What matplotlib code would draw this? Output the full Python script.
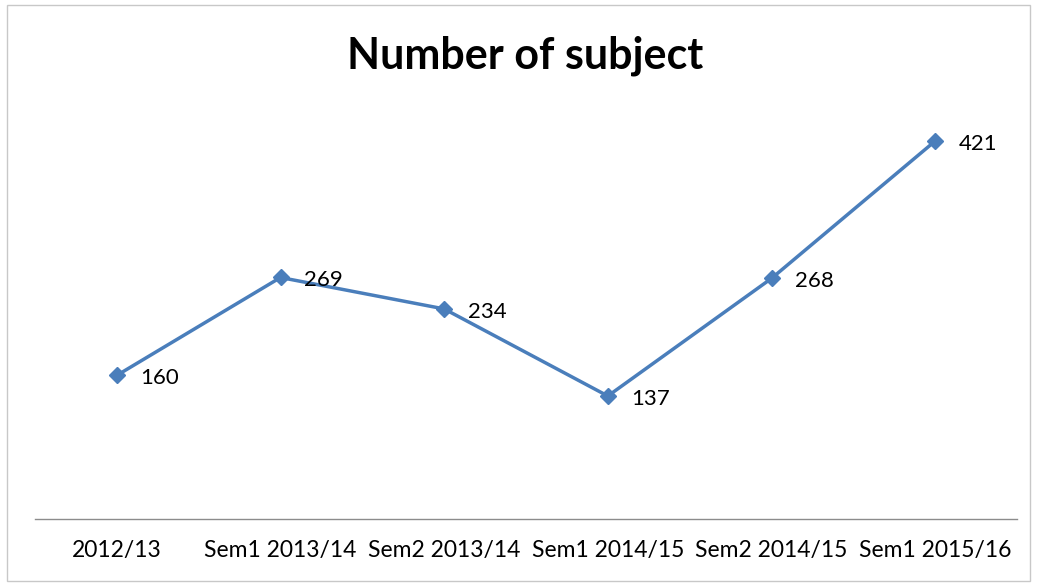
import matplotlib
matplotlib.use("Agg")
import matplotlib.pyplot as plt
from matplotlib.patches import Rectangle

plt.rcParams['font.family'] = ['Lato', 'DejaVu Sans']

categories = ["2012/13", "Sem1 2013/14", "Sem2 2013/14", "Sem1 2014/15",
              "Sem2 2014/15", "Sem1 2015/16"]
subjects = [160, 269, 234, 137, 268, 421]

W, H = 1037, 585
fig = plt.figure(figsize=(W / 100, H / 100), dpi=100)
fig.patch.set_facecolor("white")

# outer chart frame
fig.patches.append(Rectangle((7 / W, 4 / H), 1023 / W, 576 / H,
                             transform=fig.transFigure, fill=False,
                             edgecolor="#c8c8c8", linewidth=1.0))

# axes placed in pixel terms: x from 35 to 1017, y from 519 (0) to 115 (450)
ax = fig.add_axes([35 / W, (H - 519) / H, (1017 - 35) / W, (519 - 115) / H])
x = list(range(len(categories)))
ax.plot(x, subjects, color="#4a7ebb", linewidth=2.5, marker="D",
        markersize=8, markerfacecolor="#4a7ebb", markeredgecolor="#4a7ebb")

for xi, v in zip(x, subjects):
    ax.annotate(str(v), (xi, v), xytext=(17, -2), textcoords="offset points",
                ha="left", va="center", fontsize=16, color="black")

ax.set_xlim(-0.5, 5.5)
ax.set_ylim(0, 450)
ax.set_yticks([])
ax.set_xticks(x)
ax.set_xticklabels(categories, fontsize=16.5)
ax.tick_params(axis="x", length=0, pad=15)
for side in ["top", "right", "left"]:
    ax.spines[side].set_visible(False)
ax.spines["bottom"].set_color("#8c8c8c")
ax.spines["bottom"].set_linewidth(1.0)
ax.set_facecolor("none")

fig.text(525 / W, 1 - 56 / H, "Number of subject", ha="center", va="center",
         fontsize=31, fontweight="bold")

fig.savefig("out.png", dpi=100)
